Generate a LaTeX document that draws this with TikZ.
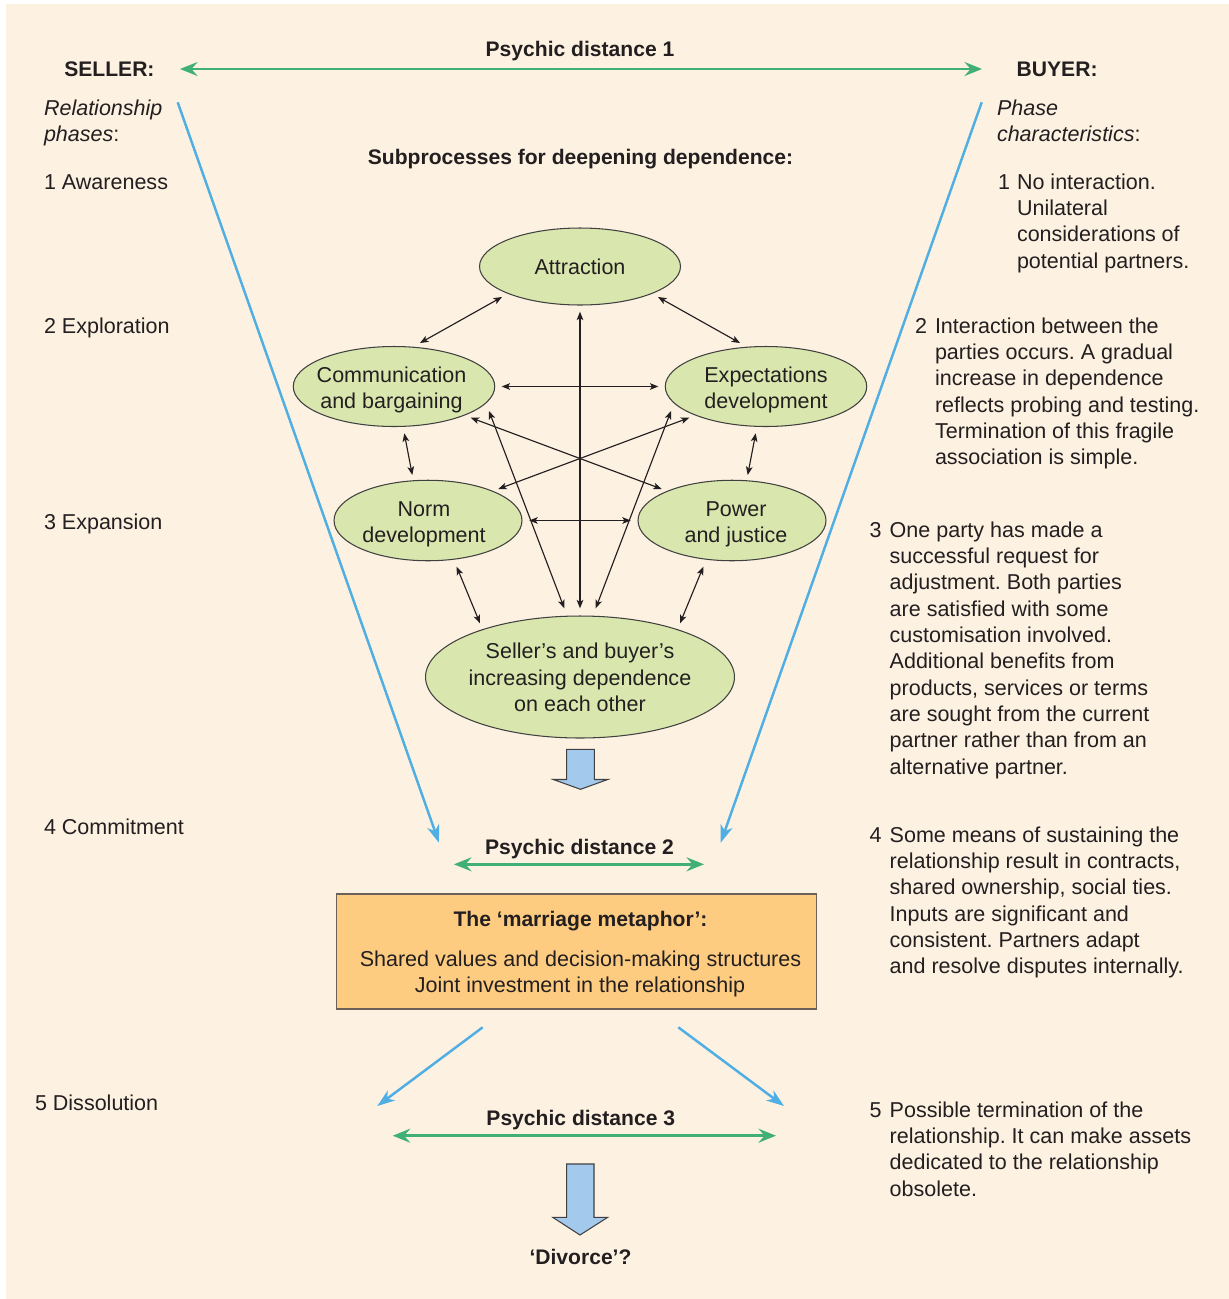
\documentclass[tikz,border=0pt]{standalone}
\usepackage{fontspec}
\setmainfont{Liberation Sans}
\usetikzlibrary{arrows.meta,shapes.geometric,calc}
\definecolor{bgc}{HTML}{FDF1E2}
\definecolor{ellf}{HTML}{D9E7AE}
\definecolor{boxf}{HTML}{FECC80}
\definecolor{boxe}{HTML}{6B6158}
\definecolor{bluel}{HTML}{4FAEE3}
\definecolor{greenl}{HTML}{40B078}
\definecolor{blockf}{HTML}{A3C9EC}
\definecolor{ink}{HTML}{231F20}
\definecolor{edgec}{HTML}{404040}
\frenchspacing
\begin{document}
\begin{tikzpicture}[x=0.02cm,y=-0.02cm,
  every node/.style={inner sep=0pt, outer sep=0pt, text=ink, font=\fontsize{12.25pt}{15pt}\selectfont\frenchspacing},
  boldtxt/.style={font=\fontsize{12pt}{15pt}\selectfont\bfseries},
  ell/.style={ellipse, draw=edgec, fill=ellf, line width=0.6pt},
  conn/.style={draw=ink, line width=0.65pt, {Stealth[length=4.8pt,width=3.8pt,inset=1.2pt]}-{Stealth[length=4.8pt,width=3.8pt,inset=1.2pt]}},
  garrow/.style={draw=greenl, line width=1.4pt, {Stealth[length=10pt,width=8pt,inset=3.5pt]}-{Stealth[length=10pt,width=8pt,inset=3.5pt]}},
  barrow/.style={draw=bluel, line width=1.4pt, -{Stealth[length=10pt,width=7pt,inset=3pt]}},
  block/.style={draw=edgec, fill=blockf, line width=0.6pt, line join=miter},
  lt/.style={anchor=base west}
]
\useasboundingbox (0,0) rectangle (1229,1299);
\fill[white] (0,0) rectangle (1229,1299);
\fill[bgc] (6,4) rectangle (1229,1299);

% ---- top row
\node[boldtxt, anchor=base] (pd1) at (580,56) {Psychic distance 1};
\node[boldtxt, lt] (seller) at (64.3,76.7) {SELLER:};
\node[boldtxt, lt] (buyer) at (1016.7,76) {BUYER:};
\coordinate (g1a) at (180,69);
\coordinate (g1b) at (982,69);
\draw[garrow] (g1a) -- (g1b);

\node[lt] (relph) at (44,115.5) {\parbox[t]{4cm}{\itshape Relationship\\phases\upshape:}};
\node[lt] (phch) at (997,115) {\parbox[t]{4cm}{\itshape Phase\\characteristics\upshape:}};

\node[boldtxt, anchor=base] (subp) at (580.5,164.5) {Subprocesses for deepening dependence:};

% ---- left phases
\node[lt] (ph1) at (44,189) {1 Awareness};
\node[lt] (ph2) at (44,333) {2 Exploration};
\node[lt] (ph3) at (44,529) {3 Expansion};
\node[lt] (ph4) at (44,834) {4 Commitment};
\node[lt] (ph5) at (35,1110) {5 Dissolution};

% ---- right characteristics
\node[lt] (c1n) at (998,189) {1};
\node[lt] (c1) at (1017,189) {\parbox[t]{6cm}{No interaction.\\Unilateral\\considerations of\\potential partners.}};
\node[lt] (c2n) at (915,333) {2};
\node[lt] (c2) at (935,333) {\parbox[t]{7cm}{Interaction between the\\parties occurs. A gradual\\increase in dependence\\reflects probing and testing.\\Termination of this fragile\\association is simple.}};
\node[lt] (c3n) at (869.7,537) {3};
\node[lt] (c3) at (889.7,537) {\parbox[t]{7cm}{One party has made a\\successful request for\\adjustment. Both parties\\are satisfied with some\\customisation involved.\\Additional benefits from\\products, services or terms\\are sought from the current\\partner rather than from an\\alternative partner.}};
\node[lt] (c4n) at (869.7,842) {4};
\node[lt] (c4) at (889.7,842) {\parbox[t]{7cm}{Some means of sustaining the\\relationship result in contracts,\\shared ownership, social ties.\\Inputs are significant and\\consistent. Partners adapt\\and resolve disputes internally.}};
\node[lt] (c5n) at (869.7,1117) {5};
\node[lt] (c5) at (889.7,1117) {\parbox[t]{7cm}{Possible termination of the\\relationship. It can make assets\\dedicated to the relationship\\obsolete.}};

% ---- blue funnel lines
\coordinate (bl1) at (177.7,102.3);
\coordinate (bl2) at (439,842.7);
\coordinate (br1) at (981.7,102.3);
\coordinate (br2) at (720.7,842.7);
\draw[barrow] (bl1) -- (bl2);
\draw[barrow] (br1) -- (br2);

% ---- ellipses
\node[ell, minimum width=4.02cm, minimum height=1.54cm] (att) at (580,266.5) {};
\node[ell, minimum width=4.03cm, minimum height=1.6cm] (comm) at (394,386.5) {};
\node[ell, minimum width=4.03cm, minimum height=1.6cm] (exp) at (766,386.5) {};
\node[ell, minimum width=3.76cm, minimum height=1.61cm] (norm) at (428,520.5) {};
\node[ell, minimum width=3.76cm, minimum height=1.61cm] (pow) at (732,520.5) {};
\node[ell, minimum width=6.18cm, minimum height=2.44cm] (sell) at (580,677) {};

\node (att-t) at (att) {Attraction};
\node[align=center] (comm-t) at ($(comm)+(-2.5,3.5)$) {Communication\\and bargaining};
\node[align=center] (exp-t) at ($(exp)+(0,3.5)$) {Expectations\\development};
\node[align=center] (norm-t) at ($(norm)+(-4,3.5)$) {Norm\\development};
\node[align=center] (pow-t) at ($(pow)+(4,3.5)$) {Power\\and justice};
\node[align=center] (sell-t) at ($(sell)+(0,0.5)$) {Seller’s and buyer’s\\increasing dependence\\on each other};

% ---- connectors
\draw[conn] ($(att)+(-78,30.5)$) -- ($(comm)+(26,-43.5)$);
\draw[conn] ($(att)+(78,30.5)$) -- ($(exp)+(-26,-43.5)$);
\draw[conn] ($(att)+(0,45.2)$) -- ($(sell)+(0,-68.7)$);
\draw[conn] ($(comm)+(107.7,0)$) -- ($(exp)+(-107.7,0)$);
\draw[conn] ($(comm)+(10.3,46.8)$) -- ($(norm)+(-15.7,-45.5)$);
\draw[conn] ($(exp)+(-10.3,46.8)$) -- ($(pow)+(15.7,-45.5)$);
\draw[conn] ($(norm)+(101.3,0)$) -- ($(pow)+(-101.3,0)$);
\draw[conn] ($(comm)+(76.7,31.2)$) -- ($(pow)+(-70.3,-31.5)$);
\draw[conn] ($(exp)+(-76.7,31.2)$) -- ($(norm)+(70.3,-31.5)$);
\draw[conn] ($(comm)+(95,24.5)$) -- ($(sell)+(-15.7,-68.7)$);
\draw[conn] ($(exp)+(-95,24.5)$) -- ($(sell)+(15.7,-68.7)$);
\draw[conn] ($(norm)+(28.7,46.2)$) -- ($(sell)+(-100,-53.7)$);
\draw[conn] ($(pow)+(-28.7,46.2)$) -- ($(sell)+(100,-53.7)$);

% ---- block arrow 1
\draw[block] (566.7,749.3) -- (594.3,749.3) -- (594.3,779.5) -- (607.7,779.5) -- (580.5,789.3) -- (553.3,779.5) -- (566.7,779.5) -- cycle;

% ---- psychic distance 2
\node[boldtxt, anchor=base] (pd2) at (579.5,854) {Psychic distance 2};
\coordinate (g2a) at (454,864.3);
\coordinate (g2b) at (704,864.3);
\draw[garrow] (g2a) -- (g2b);

% ---- marriage box
\node[draw=boxe, fill=boxf, line width=0.75pt, minimum width=9.592cm, minimum height=2.3cm] (box) at (576.5,951.5) {};
\node[boldtxt, anchor=base] (mm-t) at (580.5,926) {The ‘marriage metaphor’:};
\node[anchor=base] (mm-1) at (580.5,966) {Shared values and decision-making structures};
\node[anchor=base] (mm-2) at (580,992.3) {Joint investment in the relationship};

% ---- dissolution arrows
\coordinate (dl1) at (482.7,1027.3);
\coordinate (dl2) at (377.3,1106);
\coordinate (dr1) at (678.3,1027.3);
\coordinate (dr2) at (784,1106);
\draw[barrow] (dl1) -- (dl2);
\draw[barrow] (dr1) -- (dr2);

\node[boldtxt, anchor=base] (pd3) at (580.8,1125) {Psychic distance 3};
\coordinate (g3a) at (392.7,1135.7);
\coordinate (g3b) at (776,1135.7);
\draw[garrow] (g3a) -- (g3b);

% ---- block arrow 2
\draw[block] (566.7,1164) -- (594,1164) -- (594,1217.3) -- (607.7,1217.3) -- (580,1235) -- (552.7,1217.3) -- (566.7,1217.3) -- cycle;

\node[boldtxt, anchor=base] (div) at (580.5,1264.3) {‘Divorce’?};
\end{tikzpicture}
\end{document}
